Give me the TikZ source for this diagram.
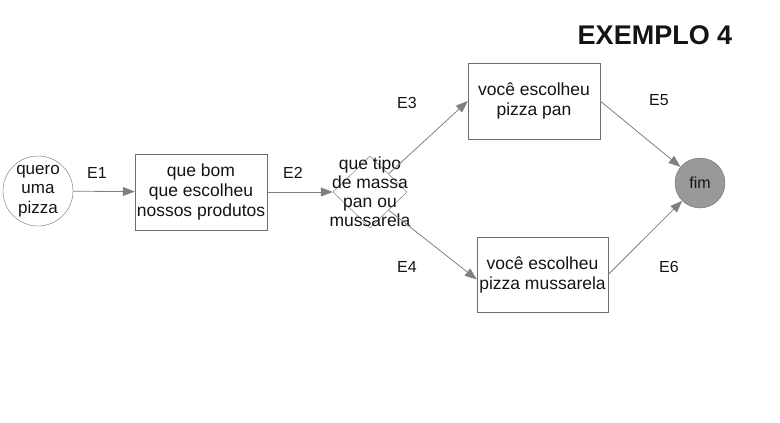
\documentclass[tikz,border=0pt]{standalone}
\usepackage{fontspec}
\setmainfont{Liberation Sans}
\usetikzlibrary{arrows.meta}
\usetikzlibrary{shapes.geometric}
\definecolor{linha}{HTML}{808080}
\definecolor{borda}{HTML}{6E6E6E}
\definecolor{fundofim}{HTML}{999999}
\definecolor{texto}{HTML}{141414}

\begin{document}
\begin{tikzpicture}[x=1pt,y=-1pt,text=texto,
	caixa/.style={rectangle,draw=borda,minimum width=132pt,minimum height=76pt,inner sep=0pt,align=center,font=\fontsize{17.5}{20}\selectfont},
	rotulo/.style={font=\fontsize{16}{19}\selectfont},
	seta/.style={draw=linha,line width=0.8pt,-{Triangle[length=12pt,width=9pt,fill=linha]}}]
	\useasboundingbox (0,0) rectangle (780,423);
	\node[circle,draw=borda,minimum size=70pt,inner sep=0pt,align=center,font=\fontsize{17}{19.5}\selectfont] (quero) at (38,191) {quero\\uma\\pizza};
	\node[caixa] (bom) at (201,192) {que bom\\que escolheu\\nossos produtos};
	\node[diamond,draw=borda,minimum width=74pt,minimum height=72pt,inner sep=0pt] (tipo) at (370,192) {};
	\node[align=center,inner sep=0pt,font=\fontsize{17.5}{19}\selectfont] (tipotxt) at (370,192) {que tipo\\de massa\\pan ou\\mussarela};
	\node[caixa] (pan) at (534,101) {você escolheu\\pizza pan};
	\node[caixa,minimum width=131pt,minimum height=75pt] (mussa) at (542.5,274.5) {você escolheu\\pizza mussarela};
	\node[circle,draw=borda,fill=fundofim,minimum size=50pt,inner sep=0pt,font=\fontsize{16}{19}\selectfont] (fim) at (700,183) {fim};
	\draw[seta] (quero) -- (bom);
	\draw[seta] (bom) -- (tipo);
	\draw[seta] (tipo.north east) -- (pan.west);
	\draw[seta] (tipo.south east) -- ([yshift=-5pt]mussa.west);
	\draw[seta] (pan.east) -- (fim);
	\draw[seta] (mussa.east) -- (fim);
	\node[rotulo] (e1) at (97,173) {E1};
	\node[rotulo] (e2) at (293,173) {E2};
	\node[rotulo] (e3) at (407,103) {E3};
	\node[rotulo] (e4) at (407,267) {E4};
	\node[rotulo] (e5) at (659,100) {E5};
	\node[rotulo] (e6) at (669,267) {E6};
	\node[font=\fontsize{27}{30}\selectfont\bfseries] (titulo) at (655,35) {EXEMPLO 4};
\end{tikzpicture}
\end{document}
